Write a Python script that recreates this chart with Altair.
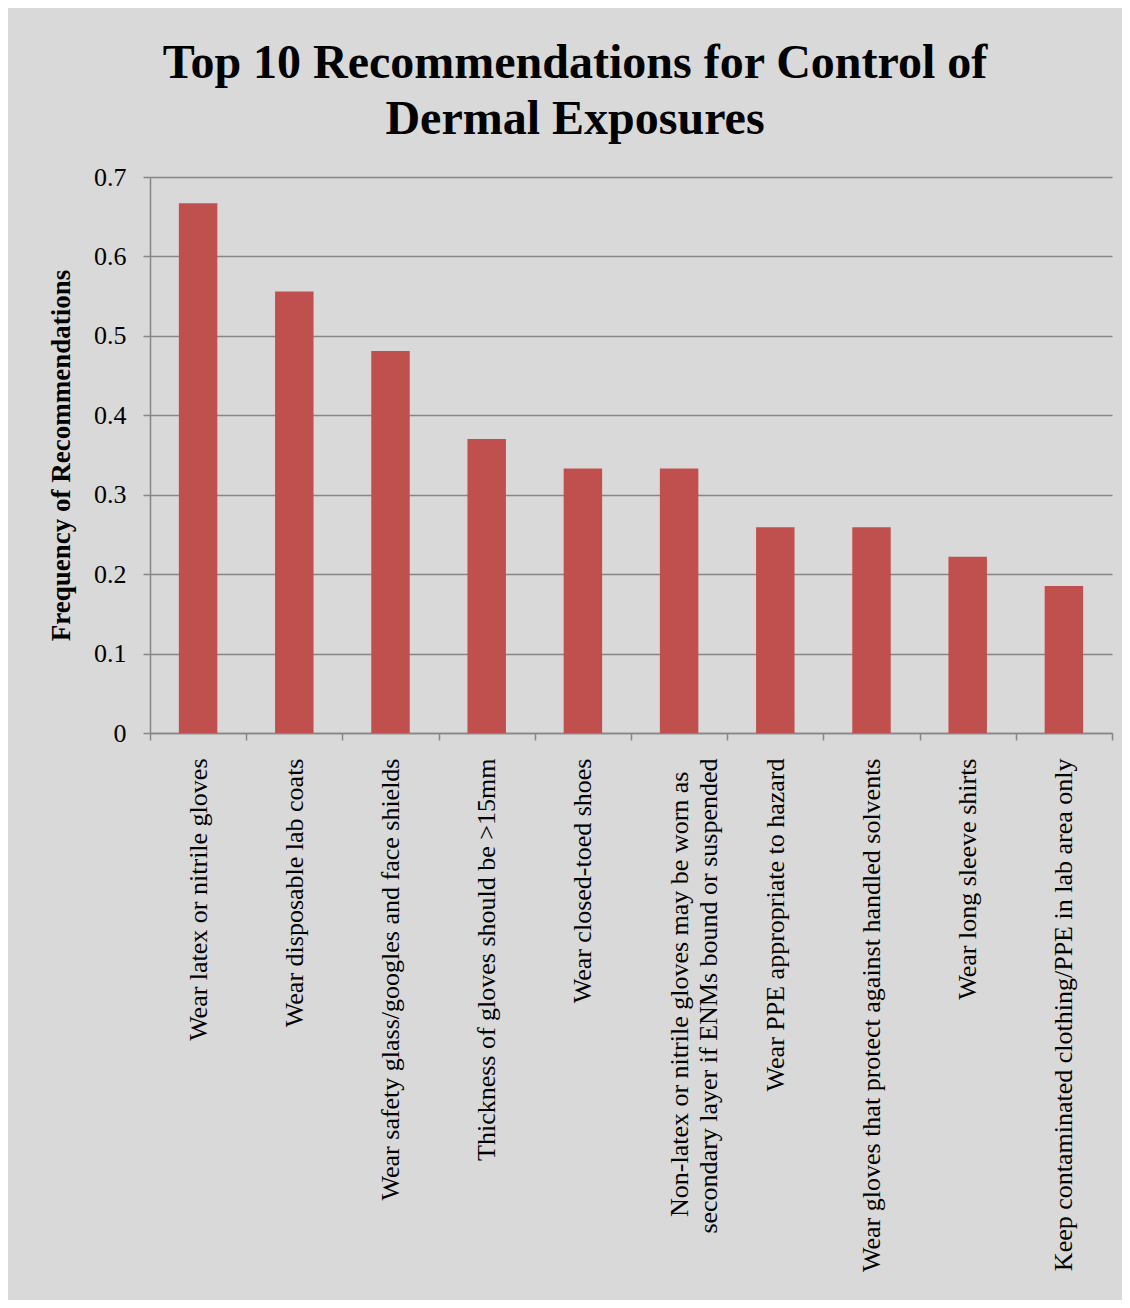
import altair as alt
import pandas as pd

CATEGORIES = [
    "Wear latex or nitrile gloves",
    "Wear disposable lab coats",
    "Wear safety glass/googles and face shields",
    "Thickness of gloves should be >15mm",
    "Wear closed-toed shoes",
    "Non-latex or nitrile gloves may be worn as\u2002\u200b|secondary layer if ENMs bound or suspended",
    "Wear PPE appropriate to hazard",
    "Wear gloves that protect against handled solvents",
    "Wear long sleeve shirts",
    "Keep contaminated clothing/PPE in lab area only",
]
FREQUENCIES = [0.667, 0.556, 0.481, 0.370, 0.333, 0.333, 0.259, 0.259, 0.222, 0.185]
Y_TICKS = [0, 0.1, 0.2, 0.3, 0.4, 0.5, 0.6, 0.7]
TITLE_LINES = ["Top 10 Recommendations for Control of", "Dermal Exposures"]
Y_TITLE = "Frequency of Recommendations"

df = pd.DataFrame({"rec": CATEGORIES, "freq": FREQUENCIES})

FONT = "Liberation Serif"
GRAY = "#868686"
BG = "#d9d9d9"

chart = (
    alt.Chart(df)
    .mark_bar(color="#c0504d", width=alt.RelativeBandSize(0.4))
    .encode(
        x=alt.X(
            "rec:N",
            sort=CATEGORIES,
            scale=alt.Scale(paddingInner=0, paddingOuter=0),
            axis=alt.Axis(
                title=None,
                labelAngle=-90,
                labelFont=FONT,
                labelFontSize=26,
                labelColor="black",
                labelPadding=18,
                labelExpr="split(datum.label, '|')",
                labelLineHeight=29,
                labelLimit=700,
                tickBand="extent",
                tickSize=7,
                tickColor=GRAY,
                tickWidth=1.5,
                domainColor=GRAY,
                domainWidth=1.5,
                grid=False,
            ),
        ),
        y=alt.Y(
            "freq:Q",
            scale=alt.Scale(domain=[0, 0.7], nice=False),
            axis=alt.Axis(
                values=Y_TICKS,
                format="~g",
                title=Y_TITLE,
                titleFont=FONT,
                titleFontSize=27,
                titleFontWeight="bold",
                titleColor="black",
                titleX=-89,
                titleY=278,
                titleAlign="center",
                titleBaseline="middle",
                titleAngle=-90,
                labelFont=FONT,
                labelFontSize=26,
                labelColor="black",
                labelPadding=17,
                tickSize=7,
                tickColor=GRAY,
                tickWidth=1.5,
                domainColor=GRAY,
                domainWidth=1.5,
                gridColor=GRAY,
                gridWidth=1.5,
            ),
        ),
    )
    .properties(
        width=962,
        height=556,
        title=alt.Title(
            TITLE_LINES,
            font=FONT,
            fontSize=48,
            fontWeight="bold",
            color="black",
            lineHeight=56,
            anchor="middle",
            dx=-56,
            offset=20,
        ),
        autosize=alt.AutoSizeParams(type="none"),
        padding={"left": 142, "top": 169, "right": 10, "bottom": 567},
        background=BG,
    )
    .configure_view(stroke=None, fill=BG)
)

chart.save("out.html", embed_options={"renderer": "svg", "actions": False})
